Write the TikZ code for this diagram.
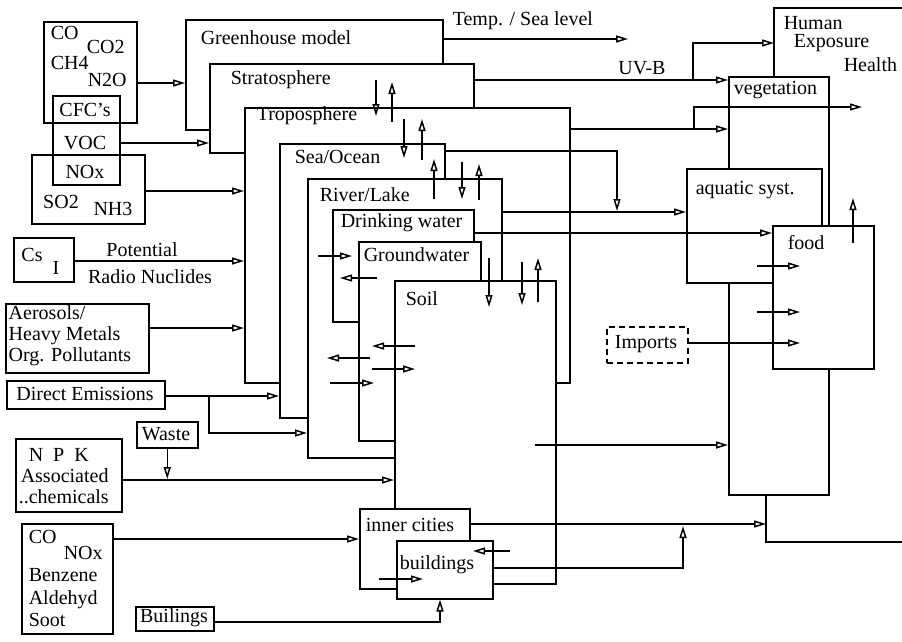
\documentclass[tikz,border=0pt]{standalone}
\usepackage{fontspec}
\setmainfont{Liberation Serif}
\usetikzlibrary{arrows.meta}
\begin{document}
\begin{tikzpicture}[x=1pt,y=-1pt,line width=1.5pt,>={Triangle[open,length=12pt,width=7pt]},
  card/.style={draw,fill=white,inner sep=0pt,anchor=north west},
  srcbox/.style={draw,inner sep=0pt,anchor=north west},
  txt/.style={font=\fontsize{20}{21}\selectfont,inner sep=0pt}]
  \useasboundingbox (0,0) rectangle (902,641);
  \clip (0,0) rectangle (902,641);
  \node[srcbox,minimum width=93,minimum height=101] (cobox) at (43,21) {};
  \node[srcbox,minimum width=67,minimum height=89] (cfcbox) at (52,95) {};
  \node[srcbox,minimum width=113,minimum height=69] (sobox) at (31,154) {};
  \node[srcbox,minimum width=60,minimum height=44] (csbox) at (13,237) {};
  \node[srcbox,minimum width=143,minimum height=69] (aerbox) at (5,303) {};
  \node[srcbox,minimum width=158,minimum height=28] (debox) at (6,380) {};
  \node[srcbox,minimum width=61,minimum height=26] (wastebox) at (136,421) {};
  \node[srcbox,minimum width=106,minimum height=73] (npkbox) at (15,438) {};
  \node[srcbox,minimum width=91,minimum height=110] (cnbox) at (21,523) {};
  \node[srcbox,minimum width=78,minimum height=24] (builbox) at (135,606) {};
  \node[srcbox,dashed,dash pattern=on 6pt off 4pt,minimum width=81,minimum height=36] (imports) at (606,326) {};
  \node[card,minimum width=257,minimum height=110] (grh) at (185,19) {};
  \node[card,minimum width=264,minimum height=89] (strat) at (209,63) {};
  \node[card,minimum width=325,minimum height=275] (tropo) at (244,107) {};
  \node[card,minimum width=165,minimum height=274] (sea) at (279,143) {};
  \node[card,minimum width=194,minimum height=279] (river) at (307,178) {};
  \node[card,minimum width=141,minimum height=112] (drink) at (332,209) {};
  \node[card,minimum width=122,minimum height=199] (ground) at (358,241) {};
  \node[card,minimum width=161,minimum height=303] (soil) at (394,280) {};
  \node[card,minimum width=110,minimum height=80] (inner) at (359,508) {};
  \node[card,minimum width=96,minimum height=58] (bldg) at (396,540) {};
  \node[inner sep=0pt,anchor=north west,minimum width=200,minimum height=68] (human) at (774,8) {};
  \draw (human.south west) |- (human.north east);
  \node[card,minimum width=100,minimum height=418] (veg) at (728,76) {};
  \node[card,minimum width=135,minimum height=114] (aqua) at (686,168) {};
  \node[card,minimum width=101,minimum height=143] (food) at (772,225) {};
  \node[txt,anchor=west] (tco) at (50,33) {CO};
  \node[txt,anchor=west] (tcotwo) at (86,47) {CO2};
  \node[txt,anchor=west] (tch) at (50,63) {CH4};
  \node[txt,anchor=west] (tnto) at (87,80) {N2O};
  \node[txt] (tcfc) at (85,110) {CFC's};
  \node[txt] (tvoc) at (85,143) {VOC};
  \node[txt] (tnox) at (85,172) {NOx};
  \node[txt] (tso) at (61,202) {SO2};
  \node[txt] (tnh) at (113,209) {NH3};
  \node[txt] (tcs) at (32,255) {Cs};
  \node[txt] (ti) at (56,268) {I};
  \node[txt,anchor=west,align=left] (taer) at (8,336) {Aerosols/\\Heavy Metals\\Org. Pollutants};
  \node[txt] (tde) at (85,394) {Direct Emissions};
  \node[txt] (twaste) at (166,434) {Waste};
  \node[txt,anchor=west] (tnpk) at (28,455) {N~~P~~K};
  \node[txt,anchor=west] (tassoc) at (20,476) {Associated};
  \node[txt,anchor=west] (tchem) at (18,497) {..chemicals};
  \node[txt,anchor=west] (tcoo) at (28,537) {CO};
  \node[txt,anchor=west] (tnoxx) at (63,553) {NOx};
  \node[txt,anchor=west,align=left,font=\fontsize{20}{22.5}\selectfont] (tbenz) at (28,598) {Benzene\\Aldehyd\\Soot};
  \node[txt] (tbuil) at (174,618) {Builings};
  \node[txt] (timp) at (646,344) {Imports};
  \node[txt,anchor=west] (tgrh) at (200,38) {Greenhouse model};
  \node[txt,anchor=west] (tstrat) at (230,80) {Stratosphere};
  \node[txt,anchor=west] (ttropo) at (256,116) {Troposphere};
  \node[txt,anchor=west] (tsea) at (294,157) {Sea/Ocean};
  \node[txt,anchor=west] (triver) at (319,195) {River/Lake};
  \node[txt,anchor=west] (tdrink) at (340,223) {Drinking water};
  \node[txt,anchor=west] (tground) at (363,255) {Groundwater};
  \node[txt,anchor=west] (tsoil) at (405,299) {Soil};
  \node[txt,anchor=west] (tinner) at (365,525) {inner cities};
  \node[txt,anchor=west] (tbldg) at (399,565) {buildings};
  \node[txt,anchor=west] (thum) at (783,23) {Human};
  \node[txt,anchor=west] (texp) at (793,43) {Exposure};
  \node[txt,anchor=west] (thea) at (843,65) {Health};
  \node[txt,anchor=west] (tveg) at (733,90) {vegetation};
  \node[txt,anchor=west] (taqua) at (695,190) {aquatic syst.};
  \node[txt,anchor=west] (tfood) at (787,243) {food};
  \node[txt,anchor=west] (ttemp) at (452,21) {Temp. / Sea level};
  \node[txt] (tuvb) at (642,68) {UV-B};
  \node[txt] (tpot) at (142,250) {Potential};
  \node[txt] (trad) at (150,277) {Radio Nuclides};
  \draw[->] (cobox.east |- 0,83) -- (grh.west |- 0,83);
  \draw[->] (cfcbox.east |- 0,143) -- (strat.west |- 0,143);
  \draw[->] (sobox.east |- 0,191) -- (tropo.west |- 0,191);
  \draw[->] (csbox.east |- 0,261) -- (tropo.west |- 0,261);
  \draw[->] (aerbox.east |- 0,328) -- (tropo.west |- 0,328);
  \draw[->] (debox.east |- 0,396) -- (sea.west |- 0,396);
  \draw[->] (209,396) |- (river.west |- 0,433);
  \draw[->] (wastebox.south) -- (wastebox.south |- 0,479);
  \draw[->] (npkbox.east |- 0,480) -- (soil.west |- 0,480);
  \draw[->] (cnbox.east |- 0,539) -- (inner.west |- 0,539);
  \draw[->] (builbox.east |- 0,622) -| (bldg.south -| 440,0);
  \draw[->] (grh.east |- 0,39) -- (628,39);
  \draw[->] (strat.east |- 0,80) -- (veg.west |- 0,80);
  \draw[->] (693,80) |- (human.west |- 0,43);
  \draw[->] (tropo.east |- 0,129) -- (veg.west |- 0,129);
  \draw[->] (694,129) |- (862,107);
  \draw[->] (sea.east |- 0,151) -| (617,211);
  \draw[->] (river.east |- 0,212) -- (aqua.west |- 0,212);
  \draw[->] (drink.east |- 0,233) -- (food.west |- 0,233);
  \draw[->] (535,445) -- (veg.west |- 0,445);
  \draw[->] (inner.east |- 0,524) -- (766,524);
  \draw[->] (bldg.east |- 0,568) -| (683,526);
  \draw (veg.south -| 766,0) |- (905,542);
  \draw[->] (imports.east |- 0,343) -- (800,343);
  \draw[->] (757,266) -- (800,266);
  \draw[->] (757,312) -- (800,312);
  \draw[->] (853,243) -- (853,198);
  \draw[->] (376,80) -- (376,116);
  \draw[->] (392,122) -- (392,82);
  \draw[->] (404,119) -- (404,158);
  \draw[->] (422,160) -- (422,119);
  \draw[->] (434,199) -- (434,159);
  \draw[->] (462,162) -- (462,199);
  \draw[->] (479,200) -- (479,164);
  \draw[->] (489,258) -- (489,307);
  \draw[->] (522,262) -- (522,305);
  \draw[->] (538,302) -- (538,258);
  \draw[->] (318,256) -- (352,256);
  \draw[->] (377,278) -- (340,278);
  \draw[->] (415,346) -- (372,346);
  \draw[->] (370,358) -- (327,358);
  \draw[->] (372,369) -- (415,369);
  \draw[->] (330,383) -- (374,383);
  \draw[->] (510,551) -- (473,551);
  \draw[->] (379,579) -- (423,579);
\end{tikzpicture}
\end{document}
